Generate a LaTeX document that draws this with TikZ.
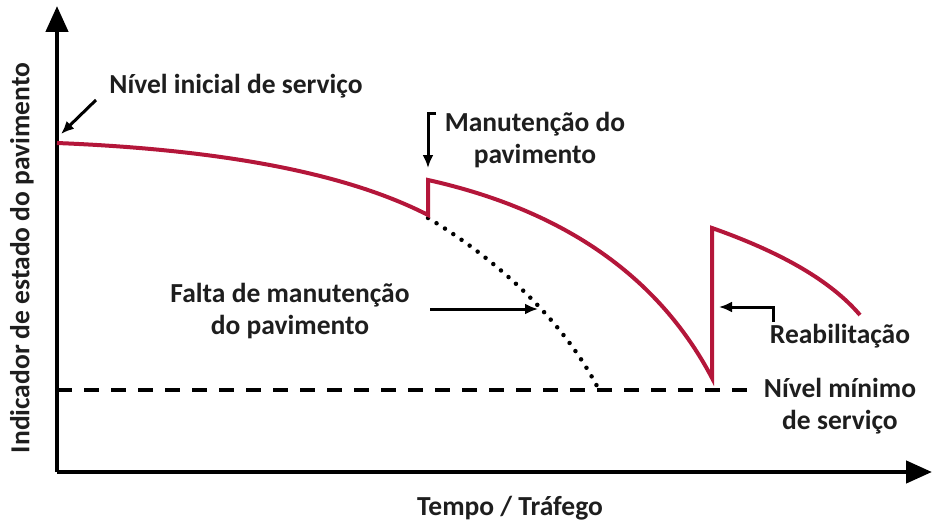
\documentclass[tikz,border=0pt]{standalone}
\usepackage{fontspec}
\setmainfont{Carlito}
\usetikzlibrary{arrows.meta}
\definecolor{curvered}{RGB}{180,22,58}
\definecolor{txt}{RGB}{30,30,30}
\tikzset{
  axis/.style={line width=4.5pt,-{Triangle[width=22pt,length=26pt]}},
  redline/.style={curvered,line width=4pt,line join=miter},
  lbl/.style={font=\bfseries\fontsize{27.5}{32}\selectfont,text=txt,align=center,inner sep=0pt},
  pointer/.style={line width=3pt,-{Latex[width=11pt,length=13pt]}},
}
\begin{document}
\begin{tikzpicture}[x=1pt,y=-1pt]
\useasboundingbox (0,0) rectangle (935,527);
% axes
\coordinate (o) at (57,472);
\coordinate (ytip) at (57,6);
\coordinate (xtip) at (932,472);
\draw[axis] (o) -- (ytip);
\draw[axis] (o) -- (xtip);
% minimum level dashed
\coordinate (d0) at (57,390);
\coordinate (d1) at (752,390);
\draw[line width=4.5pt,dash pattern=on 15pt off 12pt] (d0) -- (d1);
% dotted lack of maintenance
\coordinate (m1) at (428,218);
\coordinate (m2) at (598,388);
\draw[line width=4.5pt,line cap=round,dash pattern=on 0pt off 10pt] (m1) .. controls (490,255) and (560,315) .. (m2);
% red curve
\coordinate (s0) at (57,143);
\coordinate (s1) at (428,215);
\coordinate (s2) at (428,180);
\coordinate (s3) at (712,378);
\coordinate (s4) at (712,228);
\coordinate (s5) at (860,315);
\draw[redline] (s0) .. controls (230,150) and (350,175) .. (s1) -- (s2)
  .. controls (540,205) and (650,260) .. (s3) -- (s4)
  .. controls (780,252) and (830,280) .. (s5);
% labels
\node[lbl] (ini) at (236,86) {Nível inicial de serviço};
\node[lbl] (man) at (535,140) {Manutenção do\\pavimento};
\node[lbl] (falta) at (290,311) {Falta de manutenção\\do pavimento};
\node[lbl] (reab) at (840,336) {Reabilitação};
\node[lbl] (minimo) at (840,406) {Nível mínimo\\de serviço};
\node[lbl] (xlab) at (510,508) {Tempo / Tráfego};
\node[lbl,rotate=90] (ylab) at (22,258) {Indicador de estado do pavimento};
% pointers
\coordinate (a1s) at (96,100);
\coordinate (a1e) at (61,134);
\draw[pointer] (a1s) -- (a1e);
\coordinate (a2s) at (436,113);
\coordinate (a2e) at (428,168);
\draw[pointer] (a2s) -- (428,113) -- (a2e);
\coordinate (a3s) at (430,309);
\coordinate (a3e) at (538,309);
\draw[pointer] (a3s) -- (a3e);
\coordinate (a4s) at (773,322);
\coordinate (a4e) at (719,307);
\draw[pointer] (a4s) -- (773,307) -- (a4e);
\end{tikzpicture}
\end{document}
